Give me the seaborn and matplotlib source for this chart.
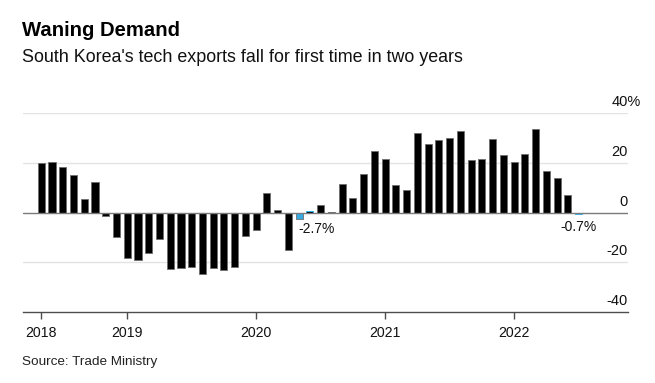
import matplotlib

matplotlib.use("Agg")

import matplotlib.pyplot as plt
import numpy as np
import pandas as pd
import seaborn as sns

# monthly year-on-year change in ICT exports, May 2018 - Jul 2022 (%)
months = pd.period_range("2018-05", "2022-07", freq="M")
values = [
    20.0, 20.4, 18.4, 15.3, 5.4, 12.5, -1.5, -9.8,
    -18.3, -18.9, -16.2, -10.6, -22.6, -22.1, -21.9, -24.6, -22.1, -23.1, -21.9, -9.4,
    -7.0, 8.1, 1.2, -15.0, -2.7, 0.9, 3.2, 0.1, 11.7, 6.0, 15.7, 24.8,
    21.6, 11.1, 9.0, 32.3, 27.8, 29.3, 30.1, 32.9, 21.2, 21.6, 29.9, 23.2,
    20.4, 23.8, 33.6, 16.8, 14.1, 7.0, -0.7,
]
highlight_months = ["2020-05", "2022-07"]
y_ticks = [40, 20, 0, -20, -40]

TITLE = "Waning Demand"
SUBTITLE = "South Korea's tech exports fall for first time in two years"
SOURCE = "Source: Trade Ministry"

BLACK = "#000000"
BLUE = "#1ab4ff"
LABEL_SIZE = 10.5

df = pd.DataFrame({"month": months.astype(str), "value": values})
df["highlight"] = df["month"].isin(highlight_months)

sns.set_theme(style="white")
plt.rcParams["font.family"] = ["Liberation Sans", "DejaVu Sans"]

fig = plt.figure(figsize=(6.55, 3.83), dpi=100)
ax = fig.add_axes([0.0351, 0.1854, 0.9237, 0.5183])

sns.barplot(
    data=df, x="month", y="value", hue="highlight",
    palette={False: BLACK, True: BLUE}, dodge=False, legend=False,
    width=0.66, edgecolor="#6e6e6e", linewidth=0.6, ax=ax,
)
for patch, hl in zip(ax.patches, df["highlight"]):
    if hl:
        patch.set_edgecolor(BLUE)

ax.set_xlim(-1.7, 54.6)
ax.set_ylim(-40, 40)
ax.set_xlabel("")
ax.set_ylabel("")
for s in ["top", "right", "left"]:
    ax.spines[s].set_visible(False)
ax.spines["bottom"].set_color("#4d4d4d")
ax.spines["bottom"].set_linewidth(1.0)

# gridlines and right-hand labels (numbers end at the axis edge, top one carries a % sign)
for v in y_ticks:
    if v == 0:
        ax.axhline(0, color="#7a7a7a", lw=1.0, zorder=3)
    elif v != -40:
        ax.axhline(v, color="#e3e3e3", lw=1.0, zorder=0)
    label = f"{v}%" if v == max(y_ticks) else f"{v}"
    shift = 0.889 * LABEL_SIZE if label.endswith("%") else 0
    ax.annotate(label, xy=(1.0, v), xycoords=("axes fraction", "data"),
                xytext=(shift, 3), textcoords="offset points",
                ha="right", va="bottom", fontsize=LABEL_SIZE, color="#111111")
ax.set_yticks([])

# year ticks: first bar and every January
tick_pos = [i for i, m in enumerate(months) if i == 0 or m.month == 1]
tick_lab = [str(months[i].year) for i in tick_pos]
ax.set_xticks(tick_pos)
ax.set_xticklabels(tick_lab, fontsize=10.2, color="#111111")
ax.tick_params(axis="x", bottom=True, length=5, width=1, color="#4d4d4d", pad=5)

# highlight labels
i1 = df.index[df["month"] == highlight_months[0]][0]
i2 = df.index[df["month"] == highlight_months[1]][0]
ax.annotate(f"{df.loc[i1, 'value']:.1f}%", xy=(i1 - 0.1, df.loc[i1, "value"]),
            xytext=(0, -1.5), textcoords="offset points",
            ha="left", va="top", fontsize=10, color="#111111")
ax.annotate(f"{df.loc[i2, 'value']:.1f}%", xy=(i2, df.loc[i2, "value"]),
            xytext=(0, -4), textcoords="offset points",
            ha="center", va="top", fontsize=10, color="#111111")

fig.text(0.034, 0.905, TITLE, fontsize=14.6, fontweight="bold", color="#000000", va="baseline")
fig.text(0.034, 0.838, SUBTITLE, fontsize=12.9, color="#111111", va="baseline")
fig.text(0.034, 0.048, SOURCE, fontsize=9.7, color="#222222", va="baseline")

fig.savefig("out.png", dpi=100)
